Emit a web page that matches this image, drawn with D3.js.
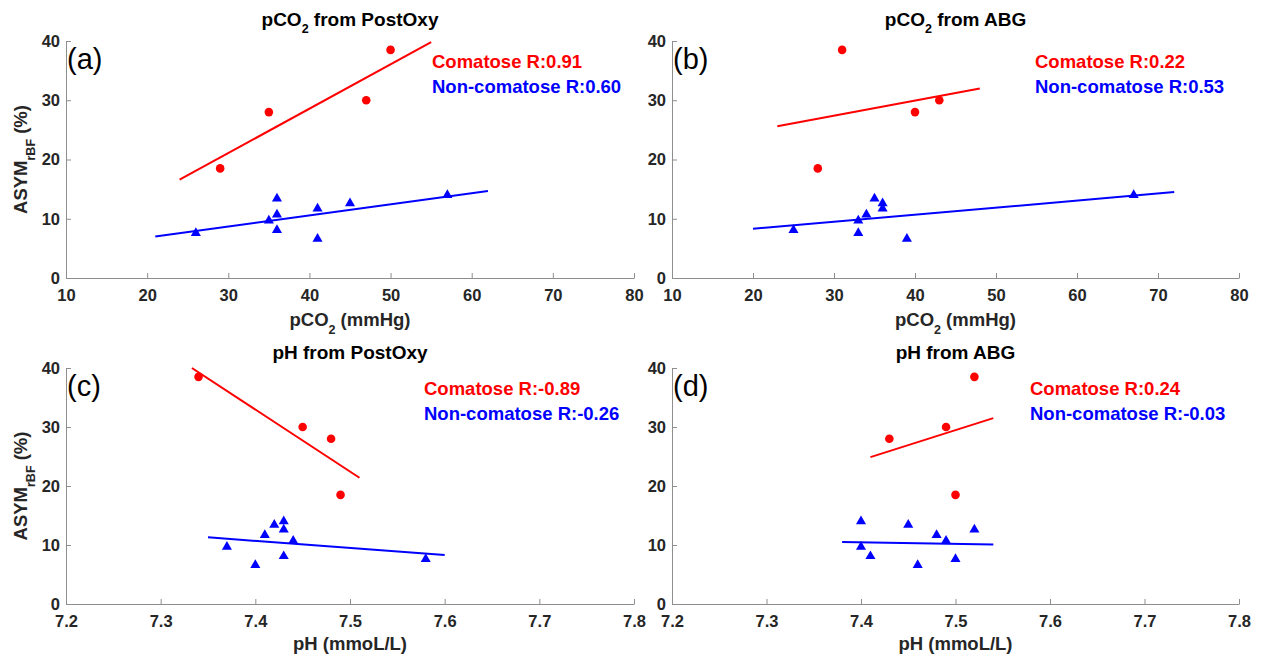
<!DOCTYPE html>
<html>
<head>
<meta charset="utf-8">
<script src="https://cdn.jsdelivr.net/npm/d3@7"></script>
<style>
  html, body { margin: 0; padding: 0; background: #fff; }
  svg { display: block; font-family: "Liberation Sans", Arial, Helvetica, sans-serif; }
</style>
</head>
<body>
<svg id="fig" width="1261" height="660"></svg>
<script>
// ---- tick values ----
const asymTicks = [0, 10, 20, 30, 40];
const pco2Ticks = [10, 20, 30, 40, 50, 60, 70, 80];
const phTicks = [7.2, 7.3, 7.4, 7.5, 7.6, 7.7, 7.8];

// ---- comatose patients: ASYM_rBF (%) and matching blood-gas values ----
const comaAsym = [18.5, 28.0, 30.0, 38.5];
const comaPco2PostOxy = [29, 35, 47, 50];
const comaPco2Abg = [28, 40, 43, 31];
const comaPhPostOxy = [7.49, 7.48, 7.45, 7.34];
const comaPhAbg = [7.50, 7.43, 7.49, 7.52];

// ---- non-comatose patients ----
const nonAsym = [6.6, 7.6, 8.1, 9.7, 10.7, 11.7, 12.6, 13.4, 14.0];
const nonPco2PostOxy = [41, 26, 36, 35, 36, 41, 45, 36, 57];
const nonPco2Abg = [39, 33, 25, 33, 34, 36, 36, 35, 67];
const nonPhPostOxy = [7.40, 7.58, 7.43, 7.37, 7.44, 7.41, 7.43, 7.42, 7.43];
const nonPhAbg = [7.46, 7.50, 7.41, 7.40, 7.49, 7.48, 7.52, 7.45, 7.40];

// ---- regression segments per panel: [x start, y start, x end, y end] ----
const comaFit = [[24, 16.6, 55, 39.8], [23, 25.6, 48, 32.0], [7.333, 40.0, 7.51, 21.4], [7.41, 24.9, 7.54, 31.5]];
const nonFit = [[21, 7.0, 62, 14.7], [20, 8.3, 72, 14.5], [7.35, 11.3, 7.60, 8.3], [7.38, 10.5, 7.54, 10.1]];

// ---- correlation coefficients ----
const comaR = ["0.91", "0.22", "-0.89", "0.24"];
const nonR = ["0.60", "0.53", "-0.26", "-0.03"];

// ---- panel texts (pieces flagged 1 are subscripts) ----
const panelLetters = ["(a)", "(b)", "(c)", "(d)"];
const panelTitles = [
  [["pCO", 0], ["2", 1], [" from PostOxy", 0]],
  [["pCO", 0], ["2", 1], [" from ABG", 0]],
  [["pH from PostOxy", 0]],
  [["pH from ABG", 0]]
];
const xLabelPco2 = [["pCO", 0], ["2", 1], [" (mmHg)", 0]];
const xLabelPh = [["pH (mmoL/L)", 0]];
const yLabelAsym = [["ASYM", 0], ["rBF", 1], [" (%)", 0]];

// ---- colours ----
const RED = "#ff0000", BLUE = "#0000ff", AXIS = "#8e8e8e", TICKTXT = "#262626";

// ---- geometry of the four axes ----
const layout = [
  { x0: 66, x1: 634, y0: 278, y1: 41, titleY: 25.5, xlabY: 326, legX: 432, legY: 68, ylab: true },
  { x0: 672, x1: 1239, y0: 278, y1: 41, titleY: 25.5, xlabY: 326, legX: 1035, legY: 68, ylab: false },
  { x0: 66, x1: 634, y0: 604, y1: 368, titleY: 359, xlabY: 650, legX: 424, legY: 395, ylab: true },
  { x0: 672, x1: 1239, y0: 604, y1: 368, titleY: 359, xlabY: 650, legX: 1030, legY: 395, ylab: false }
];

const comaX = [comaPco2PostOxy, comaPco2Abg, comaPhPostOxy, comaPhAbg];
const nonX = [nonPco2PostOxy, nonPco2Abg, nonPhPostOxy, nonPhAbg];

const svg = d3.select("#fig");

// writes text made of normal and subscript pieces into a <text> element
function richText(textSel, parts, subSize, shift) {
  let down = false;
  parts.forEach(([str, sub]) => {
    const t = textSel.append("tspan").text(str);
    if (sub && !down) { t.attr("dy", shift).attr("font-size", subSize); down = true; }
    else if (!sub && down) { t.attr("dy", -shift); down = false; }
  });
  return textSel;
}

layout.forEach((L, i) => {
  const isPco2 = i < 2;
  const x = d3.scaleLinear().domain(isPco2 ? [10, 80] : [7.2, 7.8]).range([L.x0, L.x1]);
  const y = d3.scaleLinear().domain([0, 40]).range([L.y0, L.y1]);
  const g = svg.append("g").attr("class", "panel");

  // x axis
  const gx = g.append("g")
    .attr("transform", `translate(0,${L.y0})`)
    .call(d3.axisBottom(x)
      .tickValues(isPco2 ? pco2Ticks : phTicks)
      .tickFormat(isPco2 ? d3.format("d") : d3.format(".1f"))
      .tickSizeInner(-5).tickSizeOuter(0).tickPadding(11));
  // y axis
  const gy = g.append("g")
    .attr("transform", `translate(${L.x0},0)`)
    .call(d3.axisLeft(y)
      .tickValues(asymTicks)
      .tickFormat(d3.format("d"))
      .tickSizeInner(-5).tickSizeOuter(0).tickPadding(6));

  [gx, gy].forEach(a => {
    a.attr("font-family", null).attr("font-size", 16.5).attr("font-weight", "bold");
    a.select(".domain").attr("stroke", AXIS);
    a.selectAll(".tick line").attr("stroke", AXIS);
    a.selectAll(".tick text").attr("fill", TICKTXT);
  });

  // regression lines
  const line = d3.line().x(d => x(d[0])).y(d => y(d[1]));
  const cf = comaFit[i], nf = nonFit[i];
  g.append("path").attr("d", line([[cf[0], cf[1]], [cf[2], cf[3]]]))
    .attr("stroke", RED).attr("stroke-width", 2).attr("fill", "none");
  g.append("path").attr("d", line([[nf[0], nf[1]], [nf[2], nf[3]]]))
    .attr("stroke", BLUE).attr("stroke-width", 2).attr("fill", "none");

  // comatose: red dots
  g.selectAll("circle.coma").data(comaAsym).join("circle")
    .attr("class", "coma")
    .attr("cx", (d, k) => x(comaX[i][k]))
    .attr("cy", d => y(d))
    .attr("r", 4.3)
    .attr("fill", RED);

  // non-comatose: blue triangles
  const tri = d3.symbol(d3.symbolTriangle, 44);
  g.selectAll("path.non").data(nonAsym).join("path")
    .attr("class", "non")
    .attr("d", tri)
    .attr("transform", (d, k) => `translate(${x(nonX[i][k])},${y(d)})`)
    .attr("fill", BLUE);

  // panel letter
  g.append("text")
    .attr("x", L.x0 + 1).attr("y", L.y1 + 28)
    .attr("font-size", 29).attr("fill", "#000")
    .text(panelLetters[i]);

  // legend-style annotation
  g.append("text")
    .attr("x", L.legX).attr("y", L.legY)
    .attr("font-size", 18.5).attr("font-weight", "bold").attr("fill", RED)
    .text(`Comatose R:${comaR[i]}`);
  g.append("text")
    .attr("x", L.legX).attr("y", L.legY + 25)
    .attr("font-size", 18.5).attr("font-weight", "bold").attr("fill", BLUE)
    .text(`Non-comatose R:${nonR[i]}`);

  // title
  richText(g.append("text")
    .attr("x", (L.x0 + L.x1) / 2).attr("y", L.titleY)
    .attr("text-anchor", "middle")
    .attr("font-size", 19).attr("font-weight", "bold").attr("fill", "#000"),
    panelTitles[i], 12.5, 7.5);

  // x label
  richText(g.append("text")
    .attr("x", (L.x0 + L.x1) / 2).attr("y", L.xlabY)
    .attr("text-anchor", "middle")
    .attr("font-size", 18.5).attr("font-weight", "bold").attr("fill", TICKTXT),
    isPco2 ? xLabelPco2 : xLabelPh, 12.5, 7.5);

  // y label
  if (L.ylab) {
    richText(g.append("text")
      .attr("transform", `translate(27,${(L.y0 + L.y1) / 2}) rotate(-90)`)
      .attr("text-anchor", "middle")
      .attr("font-size", 18.5).attr("font-weight", "bold").attr("fill", TICKTXT),
      yLabelAsym, 12.5, 8);
  }
});
</script>
</body>
</html>
